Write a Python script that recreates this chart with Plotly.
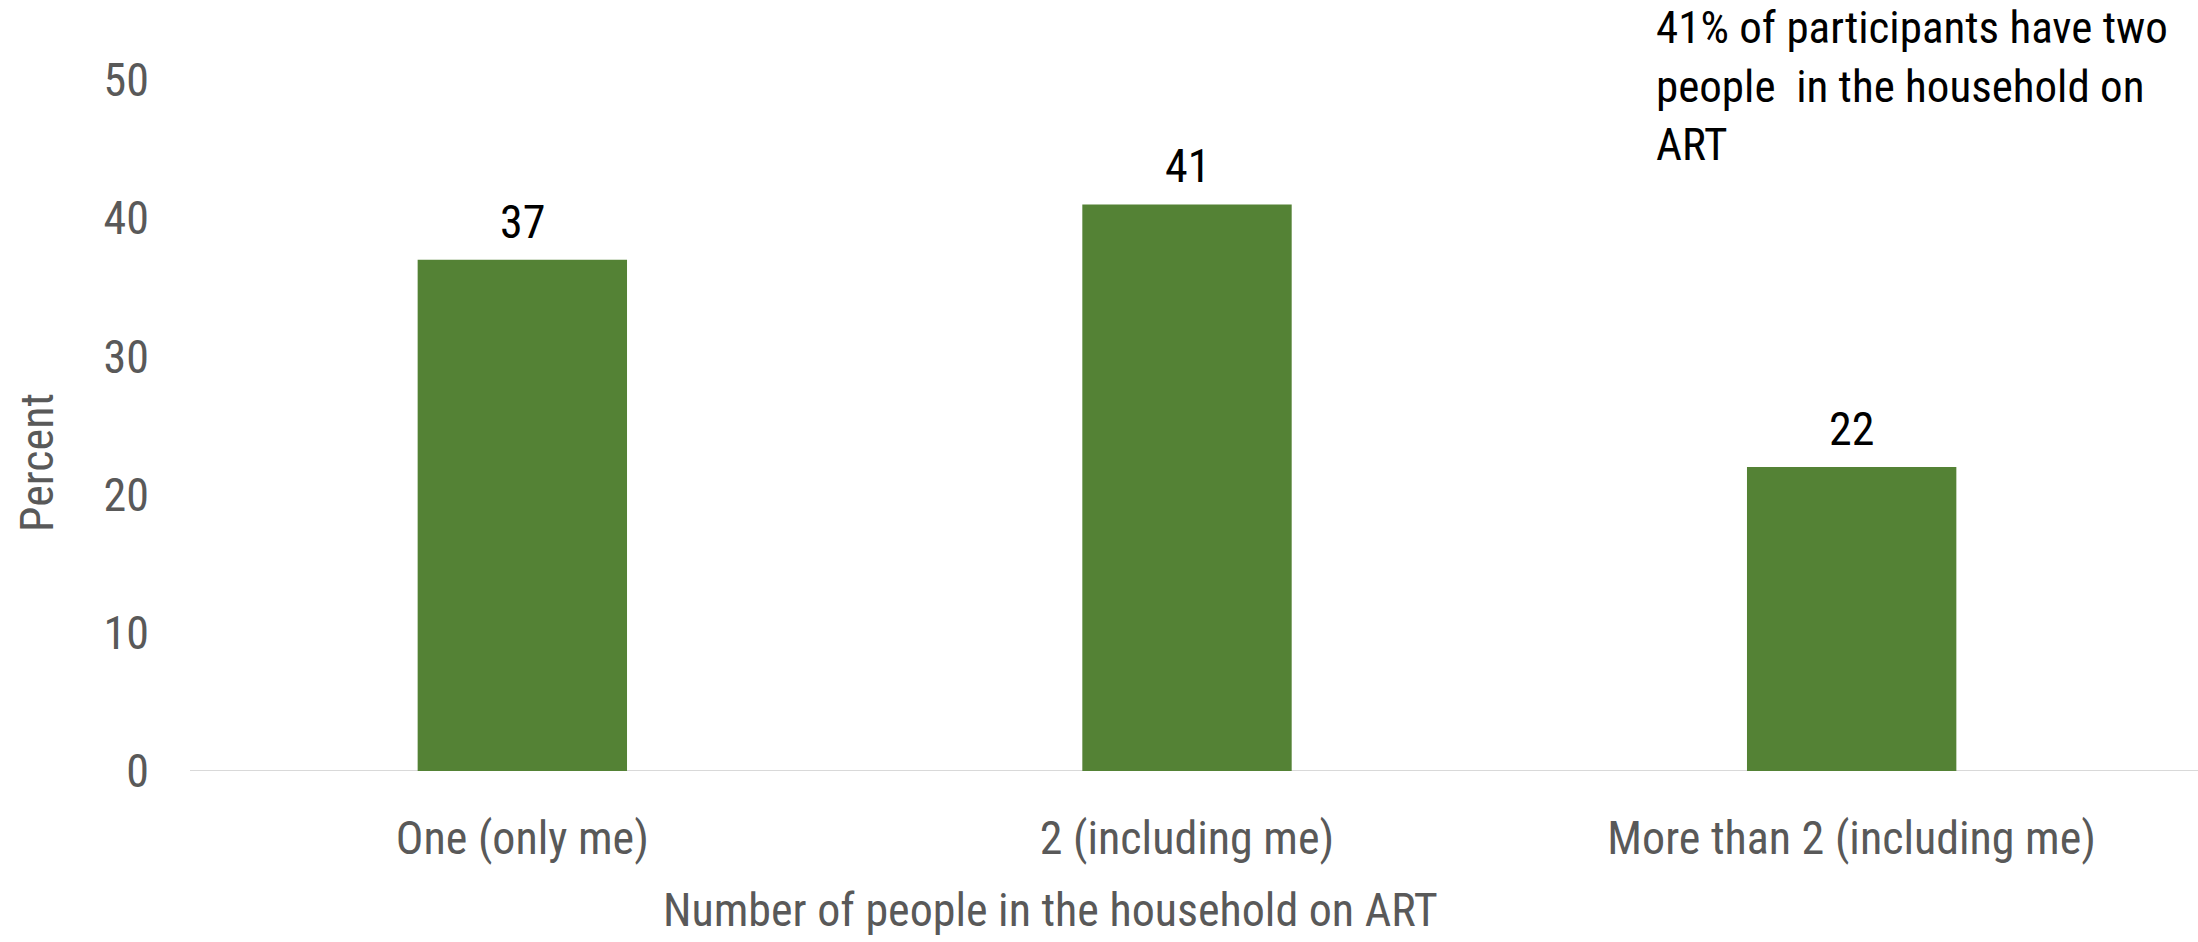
import plotly.graph_objects as go

# Share of participants by number of household members on ART
categories = ["One (only me)", "2 (including me)", "More than 2 (including me)"]
percent = [37, 41, 22]
y_ticks = [0, 10, 20, 30, 40, 50]

FONT = "Liberation Sans Narrow, Arial Narrow, Roboto Condensed, sans-serif"
GREEN = "#548235"
GREY = "#595959"

W, H = 2198, 942
ML, MR, MT, MB = 190, 14, 80, 171
PW, PH = W - ML - MR, H - MT - MB


def paper(px, py):
    """Pixel position (from top-left of the page) -> paper fractions."""
    return (px - ML) / PW, ((H - py) - MB) / PH


fig = go.Figure(
    go.Bar(
        x=categories,
        y=percent,
        marker=dict(color=GREEN, line=dict(width=0)),
        width=0.315,
        hoverinfo="x+y",
    )
)

# value labels above each bar
for cat, val in zip(categories, percent):
    fig.add_annotation(
        x=cat, y=val, xref="x", yref="y",
        text=str(val), showarrow=False,
        yanchor="bottom", yshift=9,
        font=dict(family=FONT, size=46, color="#000000"),
    )

# callout text in the top-right corner
cx, cy = paper(1655, 0)
fig.add_annotation(
    x=cx, y=cy, xref="paper", yref="paper",
    text="41% of participants have two<br>people  in the household on<br>ART",
    showarrow=False, xanchor="left", yanchor="top", align="left",
    borderpad=0,
    font=dict(family=FONT, size=45, color="#000000"),
)

fig.update_layout(
    width=W,
    height=H,
    margin=dict(l=ML, r=MR, t=MT, b=MB),
    paper_bgcolor="white",
    plot_bgcolor="white",
    showlegend=False,
    font=dict(family=FONT, size=46, color=GREY),
    xaxis=dict(
        type="category",
        showgrid=False,
        zeroline=False,
        showline=False,
        ticks="",
        tickfont=dict(family=FONT, size=46, color=GREY),
        ticklabelstandoff=36,
    ),
    yaxis=dict(
        range=[0, 50],
        tickvals=y_ticks,
        showgrid=False,
        zeroline=False,
        showline=False,
        ticks="",
        tickfont=dict(family=FONT, size=46, color=GREY),
        ticklabelstandoff=40,
    ),
)

# horizontal baseline at 0, running to the right edge
fig.add_shape(
    type="line", xref="paper", yref="y",
    x0=0, x1=1.01, y0=0, y1=0,
    line=dict(color="#d9d9d9", width=2),
    layer="below",
)

# axis titles
tx, ty = paper(1050, 910)
fig.add_annotation(
    x=tx, y=ty, xref="paper", yref="paper",
    xanchor="center", yanchor="middle",
    text="Number of people in the household on ART",
    showarrow=False,
    font=dict(family=FONT, size=46, color=GREY),
)
px_, py_ = paper(37, 463)
fig.add_annotation(
    x=px_, y=py_, xref="paper", yref="paper",
    xanchor="center", yanchor="middle",
    text="Percent", textangle=-90,
    showarrow=False,
    font=dict(family=FONT, size=46, color=GREY),
)

fig.write_html("out.html")
